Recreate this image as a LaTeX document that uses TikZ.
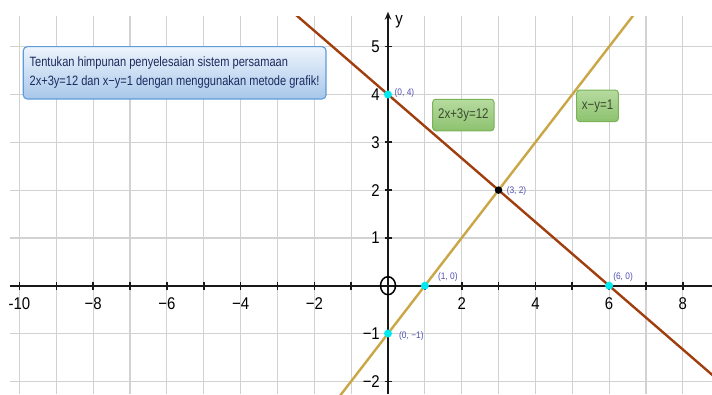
\documentclass[tikz,border=0pt]{standalone}
\usepackage{fontspec}
\setmainfont{Liberation Sans}
\newfontfamily\axisfont[FakeStretch=0.88]{Liberation Sans}
\newfontfamily\boxfont[FakeStretch=0.82]{Liberation Sans}
\usetikzlibrary{arrows.meta,shapes.geometric}
\definecolor{gridc}{HTML}{D2D2D2}
\definecolor{brownc}{HTML}{A03E0E}
\definecolor{goldc}{HTML}{C9A646}
\definecolor{dotc}{HTML}{00E8F0}
\definecolor{plabc}{HTML}{5050B4}
\definecolor{titletop}{HTML}{EEF4FC}
\definecolor{titlebot}{HTML}{A7C7EA}
\definecolor{titledraw}{HTML}{5E9BD8}
\definecolor{titletext}{HTML}{1B2A5E}
\definecolor{greentop}{HTML}{B6DB9F}
\definecolor{greenbot}{HTML}{8DC26F}
\definecolor{greendraw}{HTML}{78B356}
\definecolor{greentext}{HTML}{3B4A2E}
\begin{document}
\begin{tikzpicture}[x=36.85pt,y=47.8pt,
  gridline/.style={gridc,line width=1.2pt},
  axisline/.style={black!90,line width=1.6pt},
  ticklab/.style={font=\axisfont\fontsize{17}{17}\selectfont,inner sep=0pt},
  brownline/.style={brownc,line width=2.4pt},
  goldline/.style={goldc,line width=2.4pt},
  cdot/.style={circle,fill=dotc,minimum size=8pt,inner sep=0pt},
  bdot/.style={circle,fill=black,minimum size=7.5pt,inner sep=0pt},
  plabel/.style={font=\axisfont\fontsize{9.5}{9.5}\selectfont,text=plabc,inner sep=0pt,anchor=west},
  greenbox/.style={rounded corners=3pt,top color=greentop,bottom color=greenbot,draw=greendraw,line width=1pt,
    text=greentext,font=\boxfont\fontsize{14}{14}\selectfont,inner sep=0pt,minimum height=31.5pt}
]
\useasboundingbox (-10.529,-2.266) rectangle (8.792,5.977);
\fill[white] (-10.529,-2.266) rectangle (8.792,5.977);
% grid
\begin{scope}
\clip (-10.258,-2.266) rectangle (8.792,5.642);
\foreach \i in {-10,...,8} \draw[gridline] (\i,-2.266) -- (\i,5.642);
\foreach \j in {-2,...,5} \draw[gridline] (-10.258,\j) -- (8.792,\j);
\end{scope}
% axes
\coordinate (xl) at (-10.258,0);
\coordinate (xr) at (8.792,0);
\coordinate (yb) at (0,-2.266);
\coordinate (yt) at (0,5.732);
\draw[axisline] (xl) -- (xr);
\draw[axisline,-{Stealth[length=8pt,width=6.5pt]}] (yb) -- (yt);
\foreach \i in {-10,...,8} \draw[axisline] (\i,0) ++(0pt,-4pt) -- ++(0pt,8pt);
\foreach \j in {-2,...,5} \draw[axisline] (0,\j) ++(-3.5pt,0pt) -- ++(7.5pt,0pt);
\foreach \i/\t in {-10/-10,-8/−8,-6/−6,-4/−4,-2/−2,2/2,4/4,6/6,8/8}
  \node[ticklab] (xlab\i) at (\i,-0.368) {\t};
\foreach \j/\t in {-2/−2,-1/−1,1/1,2/2,3/3,4/4,5/5}
  \node[ticklab,anchor=east] (ylab\j) at (-0.217,\j) {\t};
\node[ticklab] (ylabel) at (0.30,5.52) {y};
\node[draw,ellipse,line width=1.5pt,minimum width=15pt,minimum height=18pt,inner sep=0pt] (origin) at (0,0) {};
% lines
\begin{scope}
\clip (-10.258,-2.266) rectangle (8.792,5.642);
\coordinate (b1) at (-2.6,5.7333);
\coordinate (b2) at (9,-2);
\coordinate (g1) at (-1.4,-2.4);
\coordinate (g2) at (7,6);
\draw[goldline] (g1) -- (g2);
\draw[brownline] (b1) -- (b2);
\end{scope}
% points
\node[cdot] (p04) at (0,4) {};
\node[cdot] (p10) at (1,0) {};
\node[cdot] (p60) at (6,0) {};
\node[cdot] (p0m1) at (0,-1) {};
\node[bdot] (p32) at (3,2) {};
\node[plabel] (l04) at ([shift={(6.5pt,1.5pt)}]p04.center) {(0, 4)};
\node[plabel] (l32) at ([shift={(8pt,-1pt)}]p32.center) {(3, 2)};
\node[plabel] (l10) at ([shift={(13pt,9pt)}]p10.center) {(1, 0)};
\node[plabel] (l60) at ([shift={(4pt,9pt)}]p60.center) {(6, 0)};
\node[plabel] (l0m1) at ([shift={(11pt,-2.2pt)}]p0m1.center) {(0, −1)};
% boxes
\node[rounded corners=4pt,top color=titletop,bottom color=titlebot,draw=titledraw,line width=1.1pt,
  minimum width=302.7pt,minimum height=52.3pt,inner sep=0pt,text=titletext] (title) at (-5.79,4.453)
  {\begin{minipage}{290pt}\boxfont\fontsize{13.5}{19}\selectfont
   Tentukan himpunan penyelesaian sistem persamaan\\
   2x+3y=12 dan x−y=1 dengan menggunakan metode grafik!\end{minipage}};
\node[greenbox,minimum width=61.3pt] (eq1) at (2.045,3.571) {2x+3y=12};
\node[greenbox,minimum width=41.6pt] (eq2) at (5.685,3.763) {x−y=1};
\end{tikzpicture}
\end{document}
